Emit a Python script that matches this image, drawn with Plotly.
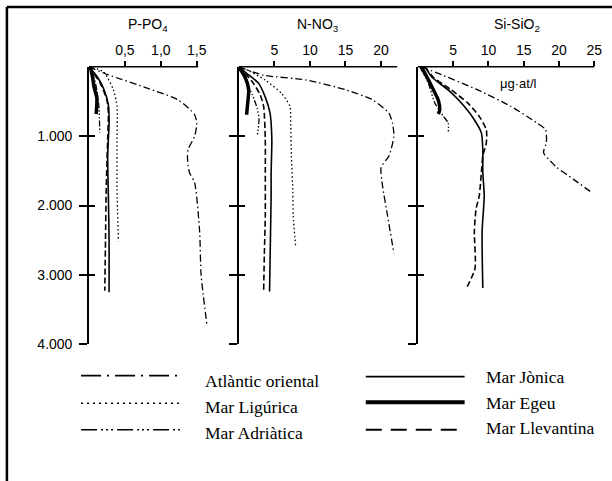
import plotly.graph_objects as go

# ---------------- data (depth in m, concentration in µg-at/l) ----------------
DEPTH_TICKS = [1000, 2000, 3000, 4000]
DEPTH_LABELS = ["1.000", "2.000", "3.000", "4.000"]

P_TICKS = [0.5, 1.0, 1.5]
P_LABELS = ["0,5", "1,0", "1,5"]
N_TICKS = [5, 10, 15, 20]
N_LABELS = ["5", "10", "15", "20"]
S_TICKS = [5, 10, 15, 20, 25]
S_LABELS = ["5", "10", "15", "20", "25"]

PANEL_TITLES = ["P-PO<sub>4</sub>", "N-NO<sub>3</sub>", "Si-SiO<sub>2</sub>"]
SEAS = ["Atlàntic oriental", "Mar Ligúrica", "Mar Adriàtica",
        "Mar Jònica", "Mar Egeu", "Mar Llevantina"]

# P-PO4
P_ATL_D = [0, 115, 314, 475, 690, 830, 1000, 1190, 1300, 1430, 1530, 1670, 2380, 3000, 3710]
P_ATL_V = [0, 0.27, 0.83, 1.24, 1.47, 1.50, 1.47, 1.38, 1.37, 1.38, 1.40, 1.47, 1.54, 1.56, 1.64]
P_LIG_D = [0, 70, 330, 570, 1050, 1760, 2520]
P_LIG_V = [0, 0.20, 0.34, 0.39, 0.39, 0.39, 0.41]
P_ADR_D = [0, 150, 400, 600, 950]
P_ADR_V = [0, 0.07, 0.12, 0.14, 0.15]
P_JON_D = [0, 150, 330, 550, 810, 1290, 1860, 2500, 3250]
P_JON_V = [0, 0.12, 0.21, 0.27, 0.28, 0.26, 0.27, 0.28, 0.28]
P_EGE_D = [0, 150, 290, 450, 680]
P_EGE_V = [0.02, 0.05, 0.07, 0.11, 0.10]
P_LLE_D = [0, 240, 480, 670, 1050, 1760, 2500, 3230]
P_LLE_V = [0, 0.16, 0.25, 0.27, 0.26, 0.24, 0.23, 0.22]

# N-NO3
N_ATL_D = [0, 120, 190, 333, 476, 667, 810, 1000, 1286, 1450, 1714, 2143, 2690]
N_ATL_V = [0, 3.5, 9.5, 15.1, 18.8, 21.1, 21.6, 21.8, 21.1, 20.0, 20.2, 20.9, 21.8]
N_LIG_D = [0, 60, 190, 381, 571, 810, 1286, 1810, 2143, 2595]
N_LIG_V = [0, 1.5, 3.7, 6.0, 7.2, 7.3, 7.4, 7.6, 7.65, 8.0]
N_ADR_D = [0, 200, 400, 600, 750, 1000]
N_ADR_V = [0, 1.0, 1.9, 2.6, 2.85, 2.6]
N_JON_D = [0, 100, 238, 429, 667, 1048, 1524, 1857, 2500, 3240]
N_JON_V = [0, 1.2, 2.8, 3.7, 4.4, 4.65, 4.55, 4.55, 4.45, 4.33]
N_EGE_D = [0, 150, 330, 480, 690]
N_EGE_V = [0, 0.9, 1.4, 1.3, 1.1]
N_LLE_D = [0, 200, 400, 571, 1048, 1524, 2143, 2700, 3238]
N_LLE_V = [0, 1.8, 3.0, 3.5, 3.73, 3.73, 3.73, 3.6, 3.5]

# Si-SiO2
S_ATL_D = [0, 95, 333, 571, 810, 905, 1095, 1238, 1381, 1452, 1619, 1810]
S_ATL_V = [0.5, 2.9, 8.5, 13.2, 16.9, 18.1, 18.2, 17.8, 19.0, 19.7, 22.0, 24.6]
S_ADR_D = [0, 240, 520, 710, 810, 950]
S_ADR_V = [0.3, 1.5, 2.4, 3.6, 4.3, 4.3]
S_JON_D = [0, 150, 333, 571, 762, 952, 1190, 1524, 1857, 2381, 3190]
S_JON_V = [1.0, 2.0, 4.3, 6.6, 8.0, 9.0, 9.2, 9.2, 9.4, 9.1, 9.2]
S_EGE_D = [0, 150, 290, 480, 620, 680]
S_EGE_V = [0.5, 1.3, 2.0, 2.9, 3.1, 2.9]
S_LLE_D = [0, 150, 333, 524, 714, 905, 1095, 1286, 1524, 1857, 2048, 2381, 2905, 3190]
S_LLE_V = [1.0, 2.2, 4.75, 7.1, 8.7, 9.7, 9.7, 9.2, 9.0, 8.7, 8.25, 8.0, 8.1, 6.9]

# ---------------- styles / layout ----------------
W, H = 612, 481
def fx(p):
    return p / W
def fy(p):
    return 1 - p / H

TOP, BOT = 68, 350
AX0 = [90, 241.5, 422.7]          # px of zero line of each panel
AXEND = [215, 402, 602]           # px of right end of each plotting area
SCALE = [72.7, 7.2, 7.14]         # px per unit
AXLINE_END = [1.52, 22.3, 25.0]   # where drawn top axis stops (data units)
TITLE_X = [150, 322, 523]

LINE = {
    "Atlàntic oriental": dict(color="black", width=1.3, dash="7px,3px,1.5px,3px"),
    "Mar Ligúrica": dict(color="black", width=1.3, dash="1.5px,2.5px"),
    "Mar Adriàtica": dict(color="black", width=1.3, dash="6px,2px,1.5px,2px,1.5px,2px,1.5px,2px"),
    "Mar Jònica": dict(color="black", width=1.6),
    "Mar Egeu": dict(color="black", width=3.5),
    "Mar Llevantina": dict(color="black", width=1.6, dash="6px,3px"),
}
LEG_LINE = {
    "Atlàntic oriental": dict(color="black", width=1.6, dash="20px,6px,2px,6px"),
    "Mar Ligúrica": dict(color="black", width=1.6, dash="2px,4px"),
    "Mar Adriàtica": dict(color="black", width=1.6, dash="16px,4px,2px,3px,2px,3px,2px,4px"),
    "Mar Jònica": dict(color="black", width=1.8),
    "Mar Egeu": dict(color="black", width=4),
    "Mar Llevantina": dict(color="black", width=1.8, dash="16px,9px"),
}

panels = [
    {"Atlàntic oriental": (P_ATL_V, P_ATL_D), "Mar Ligúrica": (P_LIG_V, P_LIG_D),
     "Mar Adriàtica": (P_ADR_V, P_ADR_D), "Mar Jònica": (P_JON_V, P_JON_D),
     "Mar Egeu": (P_EGE_V, P_EGE_D), "Mar Llevantina": (P_LLE_V, P_LLE_D)},
    {"Atlàntic oriental": (N_ATL_V, N_ATL_D), "Mar Ligúrica": (N_LIG_V, N_LIG_D),
     "Mar Adriàtica": (N_ADR_V, N_ADR_D), "Mar Jònica": (N_JON_V, N_JON_D),
     "Mar Egeu": (N_EGE_V, N_EGE_D), "Mar Llevantina": (N_LLE_V, N_LLE_D)},
    {"Atlàntic oriental": (S_ATL_V, S_ATL_D), "Mar Adriàtica": (S_ADR_V, S_ADR_D),
     "Mar Jònica": (S_JON_V, S_JON_D), "Mar Egeu": (S_EGE_V, S_EGE_D),
     "Mar Llevantina": (S_LLE_V, S_LLE_D)},
]
xticks = [(P_TICKS, P_LABELS), (N_TICKS, N_LABELS), (S_TICKS, S_LABELS)]

fig = go.Figure()
FONT = "Liberation Sans, Arial, sans-serif"

for i, pdata in enumerate(panels):
    n = i + 1
    xa = "x" if n == 1 else f"x{n}"
    ya = "y" if n == 1 else f"y{n}"
    for sea in SEAS:
        if sea not in pdata:
            continue
        v, d = pdata[sea]
        fig.add_trace(go.Scatter(x=v, y=d, xaxis=xa, yaxis=ya, mode="lines",
                                 line=dict(**LINE[sea], shape="spline", smoothing=0.6),
                                 name=sea, showlegend=False, hoverinfo="skip"))
    # overlay axis for inside half of crossing ticks
    fig.add_trace(go.Scatter(x=[None], y=[None], xaxis=xa, yaxis=f"y{n+3}",
                             mode="lines", showlegend=False, hoverinfo="skip"))

    rng_end = (AXEND[i] - AX0[i]) / SCALE[i]
    tv, tt = xticks[i]
    fig.layout[f"xaxis{'' if n == 1 else n}"] = dict(
        domain=[fx(AX0[i]), fx(AXEND[i])], range=[0, rng_end], side="top",
        anchor=ya, showgrid=False, zeroline=False, showline=False,
        ticks="outside", ticklen=5, tickwidth=1.5, tickcolor="black",
        tickvals=tv, ticktext=tt, tickfont=dict(size=14, family=FONT, color="black"),
        fixedrange=True)
    fig.layout[f"yaxis{'' if n == 1 else n}"] = dict(
        domain=[fy(BOT), fy(TOP)], range=[4000, 0], anchor=xa,
        showgrid=False, zeroline=False, showline=True, linewidth=1.5, linecolor="black",
        ticks="outside", ticklen=8, tickwidth=1.5, tickcolor="black",
        tickvals=DEPTH_TICKS, ticktext=DEPTH_LABELS, showticklabels=(n == 1),
        tickfont=dict(size=14, family=FONT, color="black"), ticklabelstandoff=4,
        fixedrange=True)
    fig.layout[f"yaxis{n+3}"] = dict(
        overlaying=ya, anchor=xa, side="left", range=[4000, 0],
        showgrid=False, zeroline=False, showline=False,
        ticks="inside", ticklen=6, tickwidth=1.5, tickcolor="black",
        tickvals=DEPTH_TICKS, showticklabels=False, fixedrange=True)
    # top axis line
    fig.add_shape(type="line", xref=xa, yref="paper", x0=0, x1=AXLINE_END[i],
                  y0=fy(TOP), y1=fy(TOP), line=dict(color="black", width=1.5))
    fig.add_annotation(text=PANEL_TITLES[i], x=fx(TITLE_X[i]), y=fy(25), xref="paper", yref="paper",
                       showarrow=False, xanchor="center", yanchor="middle",
                       font=dict(size=14, family=FONT, color="black"))

fig.add_annotation(text="μg·at/l", x=fx(525), y=fy(85), xref="paper", yref="paper",
                   showarrow=False, xanchor="center", yanchor="middle",
                   font=dict(size=13, family=FONT, color="black"))

# frame (top and left edges only; the rest lies outside the picture)
fig.add_shape(type="line", xref="paper", yref="paper", x0=fx(7), x1=1.05, y0=fy(7), y1=fy(7),
              line=dict(color="black", width=2.5))
fig.add_shape(type="line", xref="paper", yref="paper", x0=fx(7), x1=fx(7), y0=-0.05, y1=fy(7),
              line=dict(color="black", width=2.5))

# legend (manual, two columns)
LEG_POS = [
    (82, 182, 382, 205, 387), (82, 182, 410, 205, 414), (82, 182, 437, 205, 440),
    (370, 470, 383, 490, 383), (370, 470, 409, 490, 410), (370, 470, 437, 490, 435),
]
for sea, (lx0, lx1, ly, tx, ty) in zip(SEAS, LEG_POS):
    fig.add_shape(type="line", xref="paper", yref="paper", x0=fx(lx0), x1=fx(lx1),
                  y0=fy(ly), y1=fy(ly), line=LEG_LINE[sea])
    fig.add_annotation(text=sea, x=fx(tx), y=fy(ty), xref="paper", yref="paper",
                       showarrow=False, xanchor="left", yanchor="middle",
                       font=dict(size=17.5, family="Liberation Serif, Times New Roman, serif",
                                 color="black"))

fig.update_layout(width=W, height=H, margin=dict(l=0, r=0, t=0, b=0),
                  paper_bgcolor="white", plot_bgcolor="rgba(0,0,0,0)", showlegend=False)

fig.write_html("out.html", config={"displayModeBar": False})
